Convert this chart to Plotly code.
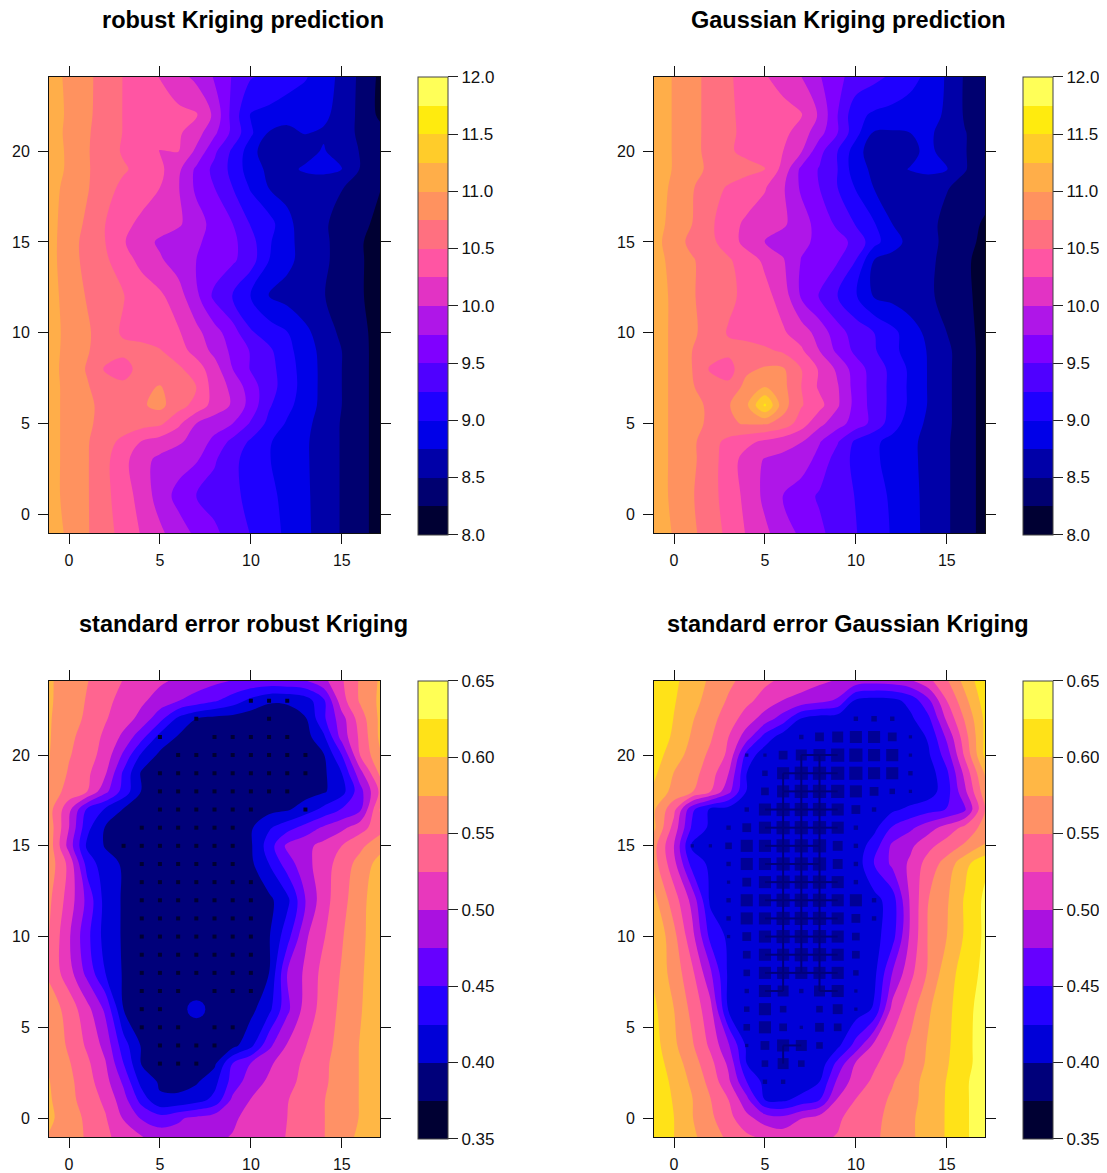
import numpy as np
import plotly.graph_objects as go

grid_x = [-1.1, 0, 1, 2, 3, 4, 5, 6, 7, 8, 9, 10, 11, 12, 13, 14, 15, 16, 17.1]
top_y = [-1.05, 1, 3, 4, 5, 6, 7, 8, 9, 10, 12, 14, 15, 16, 18, 19, 20, 21, 22, 24.1]
bottom_y = [-1.05, 0, 1, 2, 3, 4, 6, 8, 10, 12, 14, 15, 16, 17, 18, 19, 20, 21, 22, 23, 24.1]

robust_pred = [
    [11.14, 10.95, 10.77, 10.59, 10.41, 10.23, 10.05, 9.87, 9.7, 9.55, 9.39, 9.24, 9.1, 8.95, 8.8, 8.64, 8.48, 8.33, 8.15],
    [11.1, 10.92, 10.77, 10.56, 10.37, 10.15, 9.89, 9.67, 9.5, 9.4, 9.3, 9.19, 9.06, 8.93, 8.79, 8.64, 8.48, 8.33, 8.15],
    [11.1, 10.92, 10.77, 10.56, 10.33, 10.08, 9.94, 9.86, 9.78, 9.53, 9.31, 9.15, 9.01, 8.9, 8.78, 8.64, 8.48, 8.33, 8.15],
    [11.1, 10.92, 10.77, 10.6, 10.43, 10.24, 10.14, 10.04, 9.91, 9.68, 9.43, 9.21, 9.02, 8.9, 8.78, 8.64, 8.48, 8.33, 8.15],
    [11.1, 10.92, 10.77, 10.71, 10.65, 10.6, 10.55, 10.31, 10.0, 9.87, 9.75, 9.47, 9.18, 8.97, 8.81, 8.65, 8.48, 8.33, 8.15],
    [11.1, 10.92, 10.77, 10.72, 10.7, 10.72, 10.82, 10.6, 10.42, 10.15, 9.97, 9.65, 9.28, 9.07, 8.87, 8.68, 8.5, 8.33, 8.15],
    [11.1, 10.92, 10.77, 10.62, 10.56, 10.68, 10.77, 10.6, 10.5, 10.14, 9.94, 9.61, 9.35, 9.13, 8.89, 8.68, 8.5, 8.33, 8.15],
    [11.1, 10.9, 10.73, 10.47, 10.4, 10.6, 10.58, 10.55, 10.37, 10.11, 9.75, 9.48, 9.34, 9.11, 8.89, 8.68, 8.5, 8.33, 8.15],
    [11.1, 10.92, 10.77, 10.62, 10.56, 10.58, 10.52, 10.36, 10.16, 9.93, 9.69, 9.48, 9.3, 9.07, 8.87, 8.67, 8.5, 8.33, 8.15],
    [11.1, 10.93, 10.79, 10.6, 10.47, 10.41, 10.35, 10.28, 10.07, 9.85, 9.61, 9.28, 9.14, 9.01, 8.81, 8.62, 8.45, 8.32, 8.15],
    [11.1, 10.9, 10.73, 10.62, 10.51, 10.39, 10.3, 10.11, 9.81, 9.44, 9.23, 8.98, 8.73, 8.66, 8.58, 8.51, 8.4, 8.28, 8.13],
    [11.1, 10.85, 10.68, 10.54, 10.35, 10.18, 10.03, 9.89, 9.75, 9.65, 9.54, 9.36, 9.0, 8.81, 8.66, 8.54, 8.42, 8.29, 8.1],
    [11.1, 10.85, 10.67, 10.5, 10.27, 10.1, 9.96, 9.87, 9.78, 9.68, 9.56, 9.34, 9.03, 8.81, 8.66, 8.54, 8.42, 8.28, 8.12],
    [11.1, 10.87, 10.71, 10.5, 10.31, 10.2, 10.12, 10.04, 9.86, 9.66, 9.5, 9.23, 9.1, 8.8, 8.65, 8.53, 8.42, 8.32, 8.18],
    [11.1, 10.92, 10.77, 10.59, 10.44, 10.35, 10.25, 10.02, 9.7, 9.5, 9.25, 8.97, 8.74, 8.69, 8.62, 8.57, 8.51, 8.4, 8.26],
    [11.15, 10.95, 10.77, 10.65, 10.53, 10.42, 10.31, 10.06, 9.7, 9.43, 9.18, 8.86, 8.7, 8.7, 8.78, 8.82, 8.76, 8.49, 8.38],
    [11.15, 10.95, 10.77, 10.62, 10.47, 10.36, 10.24, 10.26, 9.95, 9.55, 9.2, 8.87, 8.54, 8.54, 8.68, 8.77, 8.63, 8.49, 8.38],
    [11.15, 10.93, 10.78, 10.62, 10.49, 10.41, 10.35, 10.29, 10.11, 9.8, 9.43, 9.04, 8.73, 8.65, 8.76, 8.72, 8.6, 8.46, 8.33],
    [11.15, 10.95, 10.8, 10.63, 10.49, 10.43, 10.37, 10.31, 10.28, 9.94, 9.4, 8.98, 8.93, 8.88, 8.84, 8.8, 8.66, 8.44, 8.2],
    [11.1, 10.95, 10.8, 10.65, 10.49, 10.36, 10.24, 10.1, 9.93, 9.73, 9.48, 9.27, 9.2, 9.1, 9.02, 8.87, 8.68, 8.45, 8.2],
]

gauss_pred = [
    [11.15, 10.98, 10.8, 10.62, 10.44, 10.23, 10.05, 9.87, 9.7, 9.55, 9.4, 9.26, 9.12, 8.98, 8.83, 8.68, 8.53, 8.37, 8.15],
    [11.12, 10.95, 10.77, 10.59, 10.39, 10.18, 9.94, 9.74, 9.6, 9.47, 9.35, 9.24, 9.1, 8.96, 8.82, 8.68, 8.53, 8.37, 8.15],
    [11.12, 10.95, 10.8, 10.6, 10.38, 10.14, 9.98, 9.93, 9.9, 9.65, 9.39, 9.18, 9.04, 8.92, 8.8, 8.68, 8.53, 8.37, 8.15],
    [11.12, 10.95, 10.8, 10.6, 10.43, 10.32, 10.2, 10.1, 10.01, 9.77, 9.52, 9.2, 9.05, 8.92, 8.8, 8.68, 8.53, 8.37, 8.15],
    [11.12, 10.95, 10.8, 10.72, 10.72, 10.77, 10.78, 10.66, 10.37, 10.07, 9.85, 9.64, 9.42, 9.12, 8.87, 8.7, 8.55, 8.37, 8.15],
    [11.12, 10.95, 10.8, 10.72, 10.73, 10.96, 11.55, 10.85, 10.52, 10.33, 10.03, 9.66, 9.4, 9.18, 8.95, 8.73, 8.55, 8.37, 8.15],
    [11.12, 10.95, 10.77, 10.62, 10.56, 10.84, 11.0, 10.82, 10.5, 10.21, 10.02, 9.64, 9.4, 9.18, 8.95, 8.73, 8.55, 8.37, 8.15],
    [11.12, 10.95, 10.75, 10.47, 10.4, 10.7, 10.78, 10.78, 10.5, 10.22, 9.95, 9.62, 9.39, 9.18, 8.95, 8.73, 8.55, 8.37, 8.15],
    [11.12, 10.95, 10.75, 10.62, 10.56, 10.6, 10.55, 10.46, 10.29, 10.0, 9.69, 9.44, 9.28, 9.07, 8.89, 8.73, 8.55, 8.37, 8.15],
    [11.12, 10.95, 10.8, 10.63, 10.48, 10.41, 10.35, 10.28, 10.13, 9.9, 9.6, 9.39, 9.25, 9.07, 8.87, 8.68, 8.5, 8.35, 8.15],
    [11.12, 10.95, 10.77, 10.66, 10.55, 10.44, 10.33, 10.14, 9.72, 9.48, 9.25, 9.02, 8.73, 8.67, 8.6, 8.53, 8.44, 8.31, 8.15],
    [11.1, 10.92, 10.77, 10.65, 10.53, 10.37, 10.2, 10.02, 9.74, 9.63, 9.52, 9.25, 8.75, 8.68, 8.61, 8.54, 8.44, 8.31, 8.12],
    [11.1, 10.85, 10.69, 10.56, 10.38, 10.16, 9.99, 9.89, 9.8, 9.7, 9.59, 9.43, 9.09, 8.84, 8.68, 8.56, 8.45, 8.34, 8.18],
    [11.1, 10.92, 10.75, 10.55, 10.33, 10.21, 10.12, 10.04, 9.86, 9.65, 9.45, 9.23, 9.02, 8.75, 8.65, 8.55, 8.45, 8.34, 8.22],
    [11.12, 10.95, 10.77, 10.61, 10.47, 10.37, 10.27, 10.03, 9.71, 9.5, 9.25, 8.98, 8.74, 8.69, 8.63, 8.57, 8.51, 8.45, 8.34],
    [11.15, 10.98, 10.8, 10.72, 10.65, 10.58, 10.52, 10.16, 9.69, 9.48, 9.25, 8.85, 8.7, 8.7, 8.76, 8.82, 8.76, 8.51, 8.4],
    [11.15, 10.98, 10.83, 10.67, 10.53, 10.44, 10.35, 10.25, 10.02, 9.58, 9.25, 8.87, 8.58, 8.56, 8.7, 8.8, 8.66, 8.51, 8.38],
    [11.15, 10.98, 10.83, 10.67, 10.53, 10.46, 10.39, 10.32, 10.13, 9.84, 9.5, 9.08, 8.72, 8.72, 8.75, 8.78, 8.68, 8.51, 8.38],
    [11.15, 10.98, 10.83, 10.67, 10.53, 10.45, 10.39, 10.34, 10.27, 9.96, 9.5, 9.07, 8.96, 8.92, 8.87, 8.82, 8.72, 8.47, 8.3],
    [11.15, 10.98, 10.83, 10.67, 10.53, 10.41, 10.27, 10.15, 10.0, 9.77, 9.55, 9.42, 9.32, 9.21, 9.09, 8.93, 8.72, 8.47, 8.3],
]

robust_se = [
    [.573, .558, .548, .53, .515, .501, .49, .483, .487, .497, .501, .509, .517, .526, .538, .549, .565, .58, .592],
    [.58, .562, .545, .527, .498, .472, .46, .472, .48, .488, .497, .506, .516, .525, .537, .549, .564, .576, .59],
    [.578, .558, .538, .52, .485, .44, .403, .404, .415, .432, .481, .501, .512, .524, .536, .549, .562, .576, .59],
    [.576, .556, .535, .509, .47, .415, .397, .394, .397, .417, .46, .489, .504, .518, .532, .546, .561, .576, .59],
    [.572, .552, .53, .502, .45, .398, .392, .39, .39, .395, .451, .476, .496, .513, .53, .545, .561, .576, .59],
    [.57, .546, .521, .492, .436, .397, .39, .389, .388, .388, .392, .418, .469, .502, .524, .541, .559, .576, .592],
    [.565, .54, .508, .47, .4, .392, .39, .388, .387, .388, .39, .393, .418, .469, .51, .535, .556, .573, .592],
    [.545, .51, .467, .425, .397, .392, .39, .388, .387, .387, .388, .39, .4, .475, .505, .533, .552, .571, .592],
    [.55, .503, .457, .415, .397, .392, .39, .388, .387, .387, .388, .39, .398, .44, .496, .523, .548, .569, .59],
    [.555, .514, .468, .415, .397, .392, .39, .388, .387, .387, .388, .39, .394, .418, .475, .515, .542, .566, .593],
    [.565, .518, .44, .41, .397, .392, .39, .388, .387, .388, .39, .395, .425, .462, .492, .513, .537, .559, .585],
    [.565, .49, .42, .398, .393, .39, .388, .387, .386, .387, .39, .397, .437, .481, .493, .508, .525, .544, .566],
    [.565, .5, .432, .398, .392, .39, .388, .387, .386, .387, .389, .397, .422, .44, .46, .479, .494, .515, .54],
    [.56, .507, .445, .422, .398, .392, .39, .388, .388, .387, .387, .388, .392, .397, .412, .432, .452, .47, .552],
    [.565, .541, .525, .482, .44, .398, .39, .388, .387, .386, .386, .386, .386, .386, .39, .397, .415, .465, .53],
    [.574, .547, .53, .503, .445, .396, .39, .388, .386, .385, .384, .383, .384, .385, .39, .395, .425, .49, .555],
    [.576, .552, .536, .515, .47, .42, .395, .39, .387, .385, .383, .383, .383, .385, .39, .398, .45, .525, .572],
    [.577, .556, .539, .52, .494, .458, .416, .398, .392, .388, .385, .383, .383, .385, .39, .42, .485, .53, .58],
    [.577, .562, .545, .527, .511, .492, .458, .419, .40, .392, .39, .385, .385, .39, .398, .445, .49, .537, .58],
    [.578, .564, .548, .533, .515, .504, .49, .476, .465, .453, .438, .418, .403, .403, .412, .445, .515, .553, .58],
    [.578, .565, .551, .537, .524, .514, .504, .496, .488, .481, .474, .47, .468, .47, .474, .493, .522, .553, .578],
]

gauss_se = [
    [.625, .6, .58, .562, .545, .53, .52, .514, .518, .522, .526, .536, .546, .558, .571, .586, .602, .62, .645],
    [.625, .6, .576, .555, .533, .507, .488, .482, .499, .51, .522, .533, .544, .557, .571, .586, .602, .62, .645],
    [.625, .597, .576, .551, .525, .483, .425, .42, .435, .45, .503, .526, .54, .554, .568, .584, .602, .62, .645],
    [.62, .593, .57, .542, .505, .45, .417, .41, .405, .425, .481, .512, .53, .548, .566, .584, .601, .62, .645],
    [.613, .588, .562, .533, .495, .425, .41, .408, .406, .408, .458, .503, .521, .538, .558, .58, .598, .616, .64],
    [.61, .58, .553, .52, .478, .42, .41, .408, .405, .405, .419, .46, .506, .532, .555, .578, .596, .616, .64],
    [.605, .575, .543, .508, .422, .418, .412, .408, .405, .405, .408, .41, .428, .508, .54, .572, .594, .614, .64],
    [.595, .565, .53, .48, .42, .415, .41, .408, .405, .405, .405, .41, .418, .475, .518, .554, .589, .611, .632],
    [.6, .557, .508, .443, .42, .415, .41, .408, .405, .405, .405, .41, .416, .44, .505, .553, .575, .603, .63],
    [.582, .537, .492, .42, .415, .412, .41, .408, .405, .405, .405, .41, .416, .437, .504, .55, .572, .603, .63],
    [.56, .508, .44, .42, .415, .412, .41, .408, .405, .405, .405, .41, .45, .48, .505, .537, .56, .593, .62],
    [.558, .5, .42, .418, .415, .412, .41, .408, .405, .405, .405, .41, .437, .48, .495, .518, .537, .554, .577],
    [.58, .515, .445, .42, .415, .412, .41, .408, .405, .405, .405, .408, .418, .452, .47, .49, .51, .532, .56],
    [.578, .532, .455, .42, .415, .412, .41, .408, .405, .405, .405, .405, .408, .42, .431, .441, .451, .471, .55],
    [.595, .567, .552, .526, .483, .423, .41, .407, .404, .403, .403, .403, .403, .403, .405, .412, .44, .495, .565],
    [.605, .574, .559, .537, .5, .425, .41, .407, .404, .402, .402, .402, .402, .403, .405, .412, .445, .508, .578],
    [.612, .587, .565, .545, .52, .44, .41, .408, .405, .403, .402, .402, .402, .403, .41, .422, .462, .53, .605],
    [.625, .594, .572, .553, .525, .487, .44, .412, .41, .408, .405, .403, .403, .405, .41, .428, .48, .54, .605],
    [.625, .599, .577, .558, .538, .513, .488, .463, .423, .412, .41, .408, .408, .41, .42, .445, .505, .553, .605],
    [.625, .602, .584, .565, .547, .531, .515, .499, .491, .482, .471, .42, .415, .417, .433, .47, .525, .568, .612],
    [.622, .605, .588, .571, .555, .542, .53, .52, .513, .505, .498, .49, .485, .488, .497, .518, .547, .584, .618],
]

# data locations showing up as small dots in the robust standard error
robust_dot_rows = [3, 4, 5, 5, 6, 7, 7, 8, 9, 10, 11, 12, 13, 14, 15, 16, 17, 17, 18, 19, 20, 21, 21, 22, 22, 23]
robust_dot_from = [5, 5, 4, 8, 4, 4, 8, 4, 4, 4, 4, 4, 4, 4, 3, 4, 5, 13, 5, 5, 6, 5, 8, 7, 11, 10]
robust_dot_to = [7, 8, 6, 9, 5, 6, 10, 10, 10, 10, 10, 10, 10, 9, 9, 9, 10, 13, 12, 13, 13, 5, 12, 7, 11, 12]
robust_outlier_x = [7]
robust_outlier_y = [6]

# same locations under the Gaussian fit, dip = how far the se drops there
gauss_dip_y = [22, 22, 22,
               21, 21, 21, 21, 21, 21, 21,
               20, 20, 20, 20, 20, 20, 20, 20, 20, 20,
               19, 19, 19, 19, 19, 19, 19, 19, 19,
               18, 18, 18, 18, 18, 18, 18, 18, 18,
               17, 17, 17, 17, 17, 17, 17, 17,
               16, 16, 16, 16, 16, 16, 16, 16,
               15, 15, 15, 15, 15, 15, 15, 15, 15, 15,
               14, 14, 14, 14, 14, 14, 14, 14,
               13, 13, 13, 13, 13, 13, 13, 13,
               12, 12, 12, 12, 12, 12, 12, 12, 12,
               11, 11, 11, 11, 11, 11, 11, 11, 11,
               10, 10, 10, 10, 10, 10, 10, 10,
               9, 9, 9, 9, 9, 9, 9,
               8, 8, 8, 8, 8, 8, 8,
               7, 7, 7, 7, 7, 7, 7,
               6, 6, 6, 6, 6, 6,
               5, 5, 5, 5, 5, 5,
               4, 4, 4, 4, 4,
               3, 3, 3,
               2, 2]
gauss_dip_x = [10, 11, 12,
               7, 8, 9, 10, 11, 12, 13,
               4, 5, 6, 7, 8, 9, 10, 11, 12, 13,
               5, 6, 7, 8, 9, 10, 11, 12, 13,
               5, 6, 7, 8, 9, 10, 11, 12, 13,
               4, 5, 6, 7, 8, 9, 10, 11,
               3, 4, 5, 6, 7, 8, 9, 10,
               1, 2, 3, 4, 5, 6, 7, 8, 9, 10,
               3, 4, 5, 6, 7, 8, 9, 10,
               3, 4, 5, 6, 7, 8, 9, 10,
               3, 4, 5, 6, 7, 8, 9, 10, 11,
               3, 4, 5, 6, 7, 8, 9, 10, 11,
               3, 4, 5, 6, 7, 8, 9, 10,
               4, 5, 6, 7, 8, 9, 10,
               4, 5, 6, 7, 8, 9, 10,
               4, 5, 6, 7, 8, 9, 10,
               4, 5, 6, 8, 9, 10,
               4, 5, 6, 7, 8, 9,
               4, 5, 6, 7, 8,
               5, 6, 7,
               5, 6]
gauss_dip = [4, 5, 4,
             4, 8, 10, 11, 11, 8, 3,
             3, 3, 8, 10, 11, 12, 12, 11, 11, 3,
             5, 11, 12, 12, 12, 12, 11, 11, 4,
             7, 11, 12, 12, 12, 11, 8, 5, 3,
             4, 11, 12, 12, 12, 11, 8, 4,
             4, 8, 11, 12, 12, 12, 11, 4,
             3, 3, 6, 11, 11, 12, 12, 12, 9, 4,
             4, 11, 11, 12, 12, 12, 9, 4,
             3, 8, 11, 12, 12, 12, 11, 4,
             4, 11, 11, 12, 12, 12, 11, 11, 4,
             4, 11, 11, 12, 12, 12, 11, 8, 4,
             3, 8, 11, 12, 12, 12, 11, 7,
             7, 11, 11, 12, 12, 11, 7,
             6, 11, 11, 11, 11, 11, 5,
             4, 11, 10, 4, 10, 11, 3,
             5, 11, 6, 6, 9, 3,
             6, 11, 7, 3, 8, 7,
             3, 8, 11, 10, 6,
             6, 10, 6,
             4, 4]

pred_ticks = [8, 8.5, 9, 9.5, 10, 10.5, 11, 11.5, 12]
se_ticks = [.35, .40, .45, .50, .55, .60, .65]
x_ticks = [0, 5, 10, 15]
y_ticks = [0, 5, 10, 15, 20]

pred_colors = ['#000033', '#000070', '#0000A8', '#0000E8', '#1F00FF', '#4F00FF', '#8000FF', '#AF16E8',
               '#E233C4', '#FF55A3', '#FF7080', '#FF925F', '#FFAE49', '#FFCC2A', '#FFEB0E', '#FFFF58']
se_colors = ['#000033', '#00007A', '#0000D8', '#2400FF', '#6600FF', '#AA11E0',
             '#E838BC', '#FF6590', '#FF9166', '#FFB745', '#FFE218', '#FFFF55']

# the page body keeps its 8px margin, so the figure is smaller and coordinates shift by it
PAD = 8
W, H = 1107 - PAD, 1173 - PAD
FONT = 'Liberation Sans'


def steps(colors):
    n = len(colors)
    scale = []
    for i, c in enumerate(colors):
        scale += [[i / n, c], [(i + 1) / n, c]]
    return scale


fig = go.Figure()

panels = [
    (1, 49, 77, 'robust Kriging prediction', robust_pred, top_y, pred_colors, pred_ticks, '.1f'),
    (2, 654, 77, 'Gaussian Kriging prediction', gauss_pred, top_y, pred_colors, pred_ticks, '.1f'),
    (3, 49, 683, 'standard error robust Kriging', robust_se, bottom_y, se_colors, se_ticks, '.2f'),
    (4, 654, 683, 'standard error Gaussian Kriging', gauss_se, bottom_y, se_colors, se_ticks, '.2f'),
]

for n, left, top, title, z, rows, colors, ticks, fmt in panels:
    suffix = str(n)
    z = np.array(z)
    step = (ticks[-1] - ticks[0]) / len(colors)
    x0 = left - PAD
    y0 = top - PAD
    fig.add_trace(go.Contour(
        x=grid_x, y=rows, z=z, xaxis='x' + suffix, yaxis='y' + suffix,
        zmin=ticks[0], zmax=ticks[-1], colorscale=steps(colors), autocontour=False,
        contours=dict(start=ticks[0], end=ticks[-1], size=step, coloring='fill', showlines=False),
        line=dict(width=0),
        colorbar=dict(
            x=(x0 + 369) / W, xanchor='left', xpad=0, y=1 - y0 / H, yanchor='top', ypad=0,
            thickness=30, thicknessmode='pixels', len=458, lenmode='pixels',
            outlinecolor='#444444', outlinewidth=1,
            tickmode='array', tickvals=ticks, tickformat=fmt, ticks='outside', ticklen=10, tickcolor='#222222',
            tickfont=dict(family=FONT, size=17, color='#111111'),
        ),
    ))
    fig.update_layout({
        'xaxis' + suffix: dict(
            domain=[x0 / W, (x0 + 331) / W], range=[-1.1, 17.1], anchor='y' + suffix,
            tickmode='array', tickvals=x_ticks, ticks='outside', ticklen=10, tickcolor='#111111',
            showline=True, linecolor='#111111', linewidth=1, mirror='allticks', showgrid=False, zeroline=False,
            tickfont=dict(family=FONT, size=16, color='#111111'), ticklabelstandoff=3,
        ),
        'yaxis' + suffix: dict(
            domain=[1 - (y0 + 458) / H, 1 - y0 / H], range=[-1.05, 24.1], anchor='x' + suffix,
            tickmode='array', tickvals=y_ticks, ticks='outside', ticklen=10, tickcolor='#111111',
            showline=True, linecolor='#111111', linewidth=1, mirror='allticks', showgrid=False, zeroline=False,
            tickfont=dict(family=FONT, size=16, color='#111111'), ticklabelstandoff=5,
        ),
    })
    fig.add_annotation(
        xref='paper', yref='paper', x=(x0 + 194) / W, y=1 - (y0 - 57) / H, yanchor='middle', xanchor='center',
        text='<b>' + title + '</b>', showarrow=False, font=dict(family=FONT, size=23.5, color='#000000'),
    )

# robust se: black dots on the data locations, one outlier sits higher
dot_x, dot_y = [], []
for row, start, stop in zip(robust_dot_rows, robust_dot_from, robust_dot_to):
    for xv in range(start, stop + 1):
        dot_x.append(xv)
        dot_y.append(row)
fig.add_trace(go.Scatter(x=dot_x, y=dot_y, xaxis='x3', yaxis='y3', mode='markers', hoverinfo='skip',
                         marker=dict(symbol='square', size=4, color=se_colors[0], line=dict(width=0))))
fig.add_trace(go.Scatter(x=robust_outlier_x, y=robust_outlier_y, xaxis='x3', yaxis='y3', mode='markers',
                         marker=dict(symbol='circle', size=18, color=se_colors[2], line=dict(width=0))))

# gaussian se: neighbouring deep dips run together into a net
sizes = {(a, b): d for a, b, d in zip(gauss_dip_x, gauss_dip_y, gauss_dip)}
net_x, net_y = [], []
for (a, b), d in sizes.items():
    if d < 10 or a < 5 or a > 9:
        continue
    if sizes.get((a + 1, b), 0) >= 10 and a < 9:
        net_x += [a, a + 1, None]
        net_y += [b, b, None]
    if sizes.get((a, b + 1), 0) >= 10 and 5 < a < 9:
        net_x += [a, a, None]
        net_y += [b, b + 1, None]
fig.add_trace(go.Scatter(x=net_x, y=net_y, xaxis='x4', yaxis='y4', mode='lines', hoverinfo='skip',
                         line=dict(color=se_colors[1], width=2)))
fig.add_trace(go.Scatter(x=gauss_dip_x, y=gauss_dip_y, xaxis='x4', yaxis='y4', mode='markers', hoverinfo='skip',
                         marker=dict(symbol='square', size=[d * 1.1 for d in gauss_dip], color=se_colors[1],
                                     line=dict(width=0))))

fig.update_layout(width=W, height=H, margin=dict(l=0, r=0, t=0, b=0), autosize=False, showlegend=False,
                  paper_bgcolor='white', plot_bgcolor='white', font=dict(family=FONT))

fig.write_html("out.html")
